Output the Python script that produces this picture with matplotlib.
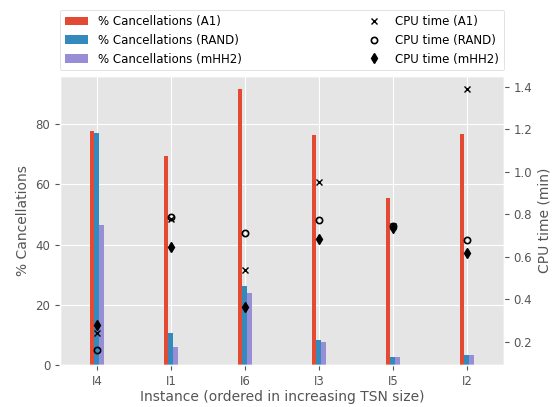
import numpy as np
import matplotlib
matplotlib.use("Agg")
import matplotlib.pyplot as plt

plt.style.use("ggplot")
plt.rcParams["font.size"] = 8.5
plt.rcParams["axes.labelsize"] = 10

# data
instances = ["I4", "I1", "I6", "I3", "I5", "I2"]
canc_a1 = [77.7, 69.4, 91.6, 76.4, 55.5, 76.7]
canc_rand = [77.0, 10.6, 26.4, 8.3, 2.6, 3.3]
canc_mhh2 = [46.6, 6.0, 24.1, 7.6, 2.6, 3.3]
cpu_a1 = [0.244, 0.778, 0.539, 0.950, 0.745, 1.388]
cpu_rand = [0.161, 0.786, 0.713, 0.772, 0.747, 0.678]
cpu_mhh2 = [0.278, 0.645, 0.363, 0.686, 0.736, 0.617]

x = np.arange(len(instances))
w = 0.067

fig, ax = plt.subplots(figsize=(5.55, 4.07), dpi=100)
ax2 = ax.twinx()

b1 = ax.bar(x - w, canc_a1, w, color="#E24A33", label="% Cancellations (A1)")
b2 = ax.bar(x, canc_rand, w, color="#348ABD", label="% Cancellations (RAND)")
b3 = ax.bar(x + w, canc_mhh2, w, color="#988ED5", label="% Cancellations (mHH2)")

p1, = ax2.plot(x, cpu_a1, "x", color="black", ms=5, mew=1, label="CPU time (A1)")
p2, = ax2.plot(x, cpu_rand, "o", color="black", mfc="none", ms=4.5, mew=1.2,
               label="CPU time (RAND)")
p3, = ax2.plot(x, cpu_mhh2, "d", color="black", ms=5, label="CPU time (mHH2)")

ax.set_xlim(-0.5, 5.5)
ax.set_xticks(x)
ax.set_xticklabels(instances)
ax.set_ylim(0, 96)
ax2.set_ylim(0.091, 1.45)
ax2.grid(False)

ax.set_xlabel("Instance (ordered in increasing TSN size)", labelpad=1.5)
ax.set_ylabel("% Cancellations")
ax2.set_ylabel("CPU time (min)")

handles = [b1, b2, b3, p1, p2, p3]
ax.legend(handles, [h.get_label() for h in handles], ncol=2,
          loc="lower left", bbox_to_anchor=(0, 1.02, 1, 0.2), mode="expand",
          borderaxespad=0, facecolor="white")

fig.subplots_adjust(left=0.108, right=0.908, top=0.813, bottom=0.103)
fig.savefig("out.png", dpi=100)
